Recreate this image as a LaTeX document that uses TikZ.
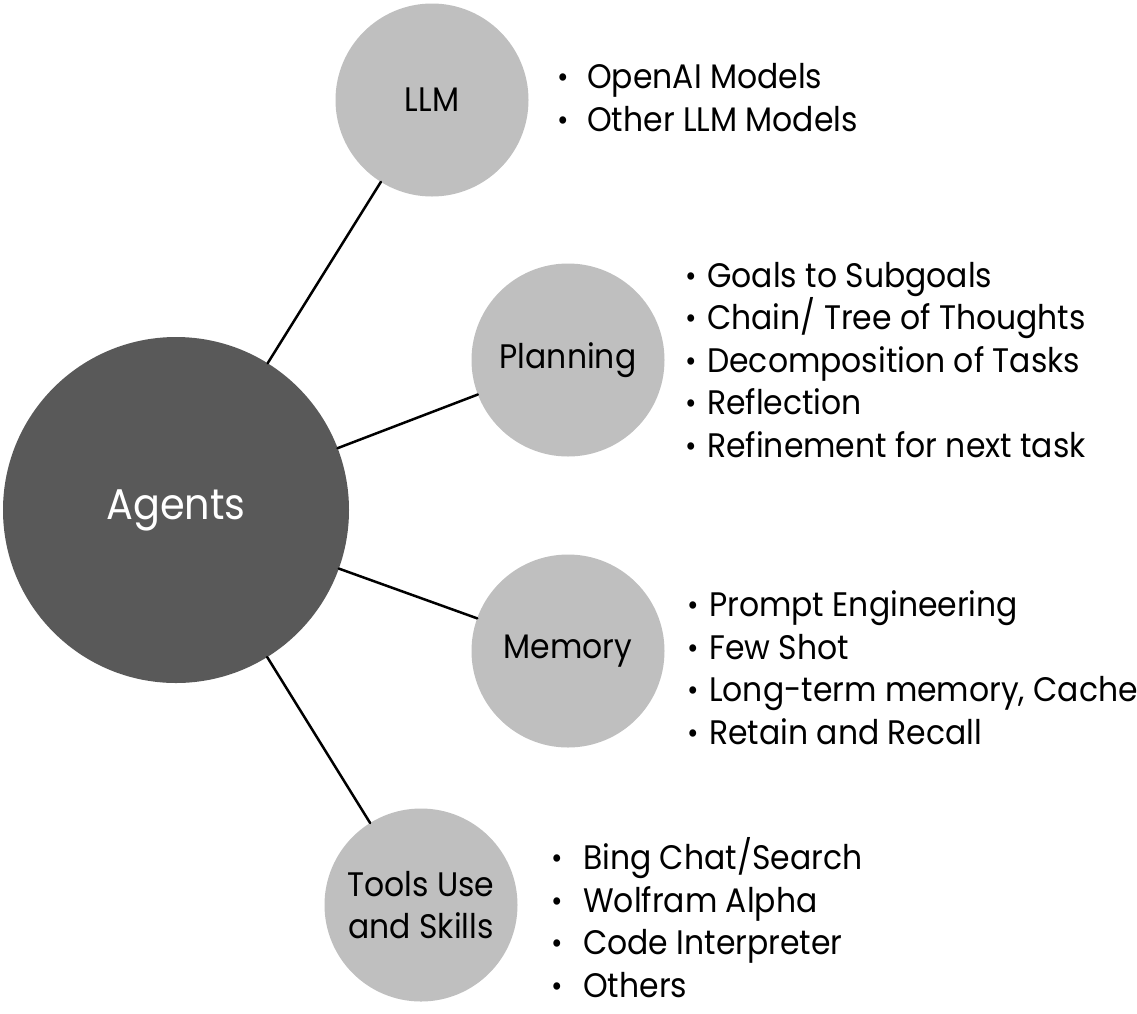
\documentclass[tikz,border=0pt]{standalone}
\usepackage{fontspec}
\setmainfont{Poppins}[FakeStretch=0.925]
\definecolor{hubgray}{HTML}{595959}
\definecolor{partgray}{HTML}{BFBFBF}
\newcommand\itemdot[1]{\makebox[#1pt][c]{\raisebox{1pt}{\fontsize{30}{30}\selectfont •}}}
\begin{document}
\begin{tikzpicture}[x=1pt,y=-1pt,line cap=round,
  hub/.style={circle,fill=hubgray,minimum size=346pt,inner sep=0pt,outer sep=0pt,text=white,font=\fontsize{43}{50}\selectfont},
  part/.style={circle,fill=partgray,minimum size=193pt,inner sep=0pt,outer sep=0pt,align=center,font=\fontsize{34}{42}\selectfont},
  items/.style={anchor=base west,align=left,inner sep=0pt,font=\fontsize{34}{42.4}\selectfont}]
\useasboundingbox (0,0) rectangle (1137,1013);
\node[hub] (agents) at (176,510) {Agents};
\node[part] (llm) at (432,100) {LLM};
\node[part] (plan) at (568,360) {Planning};
\node[part] (mem) at (568,651) {Memory};
\node[part] (tools) at (421,905) {Tools Use\\and Skills};
\foreach \p in {llm,plan,mem,tools} \draw[line width=2.5pt] (agents) -- (\p);
% base = baseline of the last line
\node[items] (llmlist) at (539,131) {\itemdot{48}OpenAI Models\\\itemdot{48}Other LLM Models};
\node[items] (planlist) at (675,457) {\itemdot{32}Goals to Subgoals\\\itemdot{32}Chain/ Tree of Thoughts\\\itemdot{32}Decomposition of Tasks\\\itemdot{32}Reflection\\\itemdot{32}Refinement for next task};
\node[items] (memlist) at (677,744) {\itemdot{32}Prompt Engineering\\\itemdot{32}Few Shot\\\itemdot{32}Long-term memory, Cache\\\itemdot{32}Retain and Recall};
\node[items] (toollist) at (531,997) {\itemdot{52}Bing Chat/Search\\\itemdot{52}Wolfram Alpha\\\itemdot{52}Code Interpreter\\\itemdot{52}Others};
\end{tikzpicture}
\end{document}
